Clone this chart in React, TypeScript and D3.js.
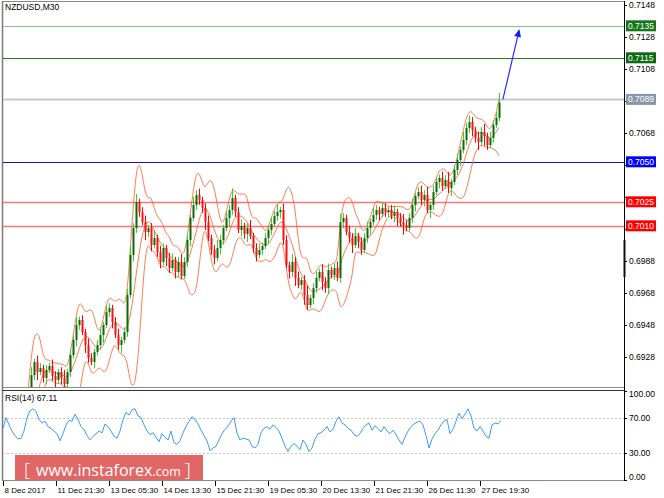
import React from "react";
import * as d3 from "d3";

const title = "NZDUSD,M30";

// M30 closes (left to right), first 8 are below the visible window
const closes = [
  0.68667, 0.68624, 0.68649, 0.68599, 0.68574, 0.68624, 0.68699, 0.68824,
  0.69061, 0.69167, 0.69249, 0.69186, 0.69211, 0.69149, 0.69199, 0.69224, 0.69161, 0.69136, 0.69186, 0.69149, 0.69111, 0.69186,
  0.69292, 0.69386, 0.6948, 0.69511, 0.69436,
  0.69355, 0.69274, 0.69249, 0.69311,
  0.69355, 0.69417, 0.6948, 0.69561, 0.69586,
  0.69499, 0.69417, 0.69355, 0.69386, 0.69436,
  0.69667, 0.69917, 0.70086, 0.70249,
  0.70186, 0.70124, 0.70061, 0.70086, 0.6998, 0.70024, 0.69936, 0.69874, 0.69961, 0.69899, 0.69836, 0.69886, 0.69811, 0.69874, 0.69786,
  0.69874, 0.70011, 0.70149, 0.7023, 0.70292, 0.70261,
  0.70211, 0.70124, 0.70024, 0.69949, 0.69899, 0.69961,
  0.70011, 0.70086, 0.70149, 0.70199, 0.70274,
  0.70186, 0.70074, 0.70099, 0.70049, 0.70086, 0.70036, 0.69961, 0.69917, 0.69949, 0.69974,
  0.70024, 0.70074, 0.70111, 0.70161, 0.70186, 0.70199,
  0.70011, 0.69855, 0.69811, 0.69874, 0.69774, 0.6973, 0.69761, 0.69667, 0.69605, 0.69649,
  0.69711, 0.69774, 0.69811, 0.69749, 0.69711, 0.69824, 0.69792, 0.69836, 0.69774,
  0.70124, 0.70149, 0.70061, 0.70024, 0.6998, 0.70036, 0.69999, 0.69949,
  0.70024, 0.70086, 0.70124, 0.70167, 0.70199, 0.70174, 0.70211, 0.70186,
  0.70199, 0.70161, 0.70186, 0.70149, 0.70124, 0.70105, 0.70086,
  0.70149, 0.7023, 0.70286, 0.70311,
  0.70261, 0.70292, 0.70199, 0.7023, 0.70311, 0.70374, 0.70399, 0.70349, 0.70386, 0.70336, 0.70374,
  0.70449, 0.70511, 0.70574, 0.70636, 0.70711, 0.70749,
  0.70699, 0.70649, 0.70624, 0.70686, 0.70661, 0.70605, 0.70649,
  0.7073, 0.70774, 0.7087,
];

// wick lengths above / below the body, in pips
const wickUp = [
  2, 3, 1, 2, 3, 2, 1, 2,
  3, 5, 2, 4, 3, 2, 3, 2, 4, 3, 2, 3, 5, 2,
  4, 3, 5, 2, 3,
  2, 4, 3, 2,
  3, 5, 2, 4, 3,
  2, 3, 4, 2, 3,
  4, 6, 3, 5,
  2, 3, 4, 2, 3, 5, 2, 4, 3, 2, 3, 4, 2, 3, 5,
  3, 4, 2, 5, 3, 4,
  2, 3, 4, 2, 3, 5,
  3, 2, 4, 3, 6,
  2, 3, 4, 2, 3, 5, 2, 3, 4, 2,
  3, 2, 4, 3, 5, 2,
  4, 3, 2, 5, 3, 4, 2, 3, 6, 2,
  3, 4, 2, 5, 3, 4, 2, 3, 4,
  5, 3, 2, 4, 3, 5, 2, 3,
  3, 4, 2, 5, 3, 2, 4, 3,
  2, 3, 4, 2, 3, 5, 3,
  3, 4, 2, 3,
  4, 3, 5, 2, 4, 3, 2, 4, 3, 5, 2,
  3, 4, 2, 5, 3, 4,
  3, 2, 4, 3, 5, 2, 4,
  3, 4, 6,
];
const wickDn = [
  3, 2, 2, 3, 1, 2, 3, 2,
  2, 4, 3, 5, 2, 3, 4, 2, 3, 5, 2, 4, 3, 2,
  3, 2, 4, 3, 2,
  5, 3, 2, 4,
  2, 3, 5, 2, 3,
  4, 2, 3, 5, 2,
  3, 2, 4, 3,
  3, 2, 5, 3, 4, 2, 3, 4, 2, 5, 3, 2, 4, 3, 2,
  2, 3, 4, 2, 3, 3,
  3, 5, 2, 3, 4, 2,
  4, 3, 2, 5, 3,
  3, 2, 4, 3, 5, 2, 3, 4, 2, 3,
  2, 4, 3, 2, 3, 4,
  3, 2, 4, 3, 5, 2, 3, 6, 3, 2,
  4, 3, 2, 5, 3, 4, 2, 3, 2,
  3, 4, 2, 3, 5, 2, 4, 3,
  2, 3, 4, 2, 3, 4, 2, 3,
  3, 2, 4, 5, 3, 6, 2,
  2, 3, 4, 2,
  3, 4, 2, 5, 3, 2, 4, 3, 2, 3, 5,
  2, 3, 4, 2, 3, 3,
  4, 3, 5, 2, 6, 3, 2,
  3, 2, 2,
];

const rsiValues = [
  58, 70, 62, 55, 50, 46, 47, 55, 70, 78, 80, 77, 68, 64, 66, 60, 58, 55, 52, 44, 52, 62, 67, 66, 74, 68, 60, 57, 50, 45,
  49, 52, 55, 53, 63, 60, 55, 49, 47, 55, 68, 76, 73, 79, 80, 72, 70, 62, 55, 51, 53, 48, 43, 52, 48, 45, 55, 42, 40, 44,
  53, 60, 66, 71, 68, 63, 56, 50, 44, 33, 36, 38, 45, 52, 57, 60, 66, 70, 53, 45, 47, 46, 45, 38, 36, 40, 53, 58, 60, 57,
  62, 59, 55, 47, 38, 32, 38, 41, 38, 34, 45, 40, 32, 36, 46, 52, 53, 56, 60, 54, 57, 66, 71, 64, 62, 58, 56, 51, 49, 52,
  58, 62, 64, 56, 61, 58, 54, 60, 55, 52, 56, 51, 45, 40, 48, 55, 60, 63, 65, 66, 62, 50, 36, 46, 52, 56, 62, 66, 68, 52,
  57, 66, 75, 69, 74, 80, 72, 58, 55, 60, 55, 49, 47, 62, 64, 63, 67.11,
];
const rsiLabel = "RSI(14) 67.11";

// price-axis labels that stay readable (the others sit under the level boxes)
const priceTicks = [0.7148, 0.7128, 0.7108, 0.7068, 0.6988, 0.6968, 0.6948, 0.6928];
const hiddenTicks = [0.7088, 0.7048, 0.7028, 0.7008];
const levelPrices = [0.7135, 0.7115, 0.7089, 0.705, 0.7025, 0.701];
const levelLineColors = ["#86c486", "#1e7e1e", "#c4c8d2", "#1010c8", "#ff7474", "#ff7474"];
const levelBoxColors = ["#16761c", "#0b6a12", "#8896a8", "#0000ff", "#ff0000", "#ff0000"];
const levelWidths = [1, 1, 2, 1, 1.6, 1.6];

const rsiTicks = [100, 70, 30, 0];
const timeLabels = [
  "8 Dec 2017", "11 Dec 21:30", "13 Dec 05:30", "14 Dec 13:30", "15 Dec 21:30",
  "19 Dec 05:30", "20 Dec 13:30", "21 Dec 21:30", "26 Dec 11:30", "27 Dec 19:30",
];

const arrowFromPrice = 0.7089;
const arrowToPrice = 0.7133;

const W = 664;
const H = 498;
const AX = 624; // right axis x
const FONT = "'Liberation Sans', Arial, sans-serif";

export default function App() {
  const n = closes.length;
  const x = d3.scaleLinear().domain([0, n - 1]).range([4, 499]);
  const y = d3.scaleLinear().domain([0.6928, 0.7148]).range([357, 5]);
  const yr = d3.scaleLinear().domain([0, 100]).range([480, 391]);
  const xr = d3.scaleLinear().domain([0, rsiValues.length - 1]).range([3, 501]);
  const xt = d3.scaleLinear().domain([0, timeLabels.length - 1]).range([3, 480]);

  const candles = closes.map((c, i) => {
    const o = i === 0 ? c + 0.0003 : closes[i - 1];
    const hi = Math.max(o, c) + (wickUp[i] ?? 2) * 0.0001;
    const lo = Math.min(o, c) - (wickDn[i] ?? 2) * 0.0001;
    return { o, c, hi, lo };
  });

  // Bollinger bands
  const period = 6;
  const bands: { i: number; up: number; mid: number; lo: number }[] = [];
  for (let i = period - 1; i < n; i++) {
    const win = closes.slice(i - period + 1, i + 1);
    const m = d3.mean(win) as number;
    const sd = Math.sqrt(d3.mean(win.map((v) => (v - m) * (v - m))) as number);
    bands.push({ i, up: m + 2 * sd, mid: m, lo: m - 2 * sd });
  }
  const bandLine = (key: "up" | "mid" | "lo") =>
    d3
      .line<{ i: number; up: number; mid: number; lo: number }>()
      .x((d) => x(d.i))
      .y((d) => y(d[key]))
      .curve(d3.curveBasis)(bands) as string;

  const rsiPath = d3
    .line<number>()
    .x((_, i) => xr(i))
    .y((d) => yr(d))(rsiValues) as string;

  // arrow
  const ax1 = x(n - 1 + 1.3);
  const ay1 = y(arrowFromPrice);
  const ax2 = x(n - 1 + 6.8);
  const ay2 = y(arrowToPrice);
  const ang = Math.atan2(ay2 - ay1, ax2 - ax1);
  const hl = 8;
  const hw = 3.5;
  const bx = ax2 - hl * Math.cos(ang);
  const by = ay2 - hl * Math.sin(ang);
  const head = `M${ax2},${ay2} L${bx + hw * Math.sin(ang)},${by - hw * Math.cos(ang)} L${bx - hw * Math.sin(ang)},${by + hw * Math.cos(ang)} Z`;

  return (
    <svg
      width={W}
      height={H}
      style={{ position: "absolute", left: 0, top: 0, background: "#fff" }}
      fontFamily={FONT}
    >
      <defs>
        <clipPath id="mainClip">
          <rect x={3} y={2} width={AX - 3} height={385} />
        </clipPath>
        <clipPath id="rsiClip">
          <rect x={3} y={392} width={AX - 3} height={87} />
        </clipPath>
      </defs>
      <rect x={0} y={0} width={W} height={H} fill="#fff" />

      {/* frames */}
      <line x1={2.5} x2={AX} y1={1.5} y2={1.5} stroke="#8a8a8a" />
      <line x1={2.5} x2={2.5} y1={1} y2={481} stroke="#7a7a7a" strokeWidth={1.5} />
      <line x1={2.5} x2={AX} y1={387.5} y2={387.5} stroke="#8a8a8a" />
      <line x1={2.5} x2={AX} y1={390.5} y2={390.5} stroke="#333" />
      <line x1={2.5} x2={AX} y1={480.5} y2={480.5} stroke="#8a8a8a" />
      <line x1={AX + 0.5} x2={AX + 0.5} y1={1} y2={481} stroke="#000" />
      <rect x={AX - 0.5} y={240} width={2} height={37} fill="#111" />

      {/* price axis */}
      {[...priceTicks, ...hiddenTicks].map((p) => (
        <line
          key={"t" + p}
          x1={AX}
          x2={AX + 3}
          y1={Math.round(y(p)) + 0.5}
          y2={Math.round(y(p)) + 0.5}
          stroke="#000"
        />
      ))}
      {priceTicks.map((p) => (
        <text key={p} x={629} y={y(p)} dy="0.35em" fontSize={8.5} fill="#000">
          {p.toFixed(4)}
        </text>
      ))}

      {/* level lines */}
      {levelPrices.map((p, i) => (
        <line
          key={"l" + p}
          x1={3}
          x2={AX}
          y1={Math.round(y(p)) + 0.5}
          y2={Math.round(y(p)) + 0.5}
          stroke={levelLineColors[i]}
          strokeWidth={levelWidths[i]}
        />
      ))}

      <g clipPath="url(#mainClip)">
        {/* Bollinger */}
        <g fill="none" stroke="#ff5a26" strokeOpacity={0.8} strokeWidth={1}>
          <path d={bandLine("up")} />
          <path d={bandLine("mid")} />
          <path d={bandLine("lo")} />
        </g>
        {/* candles */}
        {candles.map((c, i) => {
          const cx = Math.round(x(i));
          const bull = c.c >= c.o;
          const top = y(Math.max(c.o, c.c));
          const bot = y(Math.min(c.o, c.c));
          return (
            <g key={i}>
              <line
                x1={cx + 0.5}
                x2={cx + 0.5}
                y1={y(c.hi)}
                y2={y(c.lo)}
                stroke={bull ? "#2ed62e" : "#ff0000"}
              />
              <rect
                x={cx - 0.5}
                y={top}
                width={2}
                height={Math.max(1, bot - top)}
                fill={bull ? "#0b6b0b" : "#ff1010"}
              />
            </g>
          );
        })}
      </g>

      {/* arrow */}
      <line x1={ax1} y1={ay1} x2={bx} y2={by} stroke="#2a2aff" strokeWidth={1.2} />
      <path d={head} fill="#1a1aff" />

      {/* level boxes */}
      {levelPrices.map((p, i) => (
        <g key={"b" + p}>
          <rect x={AX + 2} y={y(p) - 5.5} width={30} height={11} fill={levelBoxColors[i]} />
          <text x={AX + 4} y={y(p)} dy="0.35em" fontSize={8.5} fill="#fff">
            {p.toFixed(4)}
          </text>
        </g>
      ))}

      <text x={5} y={10} fontSize={8.5} fill="#000">
        {title}
      </text>

      {/* RSI panel */}
      {[70, 30].map((v) => (
        <line
          key={v}
          x1={3}
          x2={AX}
          y1={Math.round(yr(v)) + 0.5}
          y2={Math.round(yr(v)) + 0.5}
          stroke="#c8c8c8"
          strokeDasharray="2,2"
        />
      ))}
      <g clipPath="url(#rsiClip)">
        <path d={rsiPath} fill="none" stroke="#3d9bf5" strokeWidth={1} />
      </g>
      <text x={5} y={401} fontSize={8.5} fill="#000">
        {rsiLabel}
      </text>
      {rsiTicks.map((v) => {
        const ty = Math.max(394.5, Math.min(477, yr(v)));
        return (
          <g key={"r" + v}>
            <line x1={AX} x2={AX + 3} y1={Math.round(yr(v)) + 0.5} y2={Math.round(yr(v)) + 0.5} stroke="#000" />
            <text x={629} y={ty} dy="0.35em" fontSize={8.5} fill="#000">
              {v.toFixed(2)}
            </text>
          </g>
        );
      })}

      {/* watermark */}
      <rect x={15} y={455} width={188} height={25} fill="#dc4c4c" fillOpacity={0.85} />
      <text x={24} y={476} fill="#fff" fontFamily="'Open Sans', sans-serif">
        <tspan fontSize={19} fontWeight={300}>[</tspan>
        <tspan dx={6} fontSize={16}>www.instaforex</tspan>
        <tspan fontSize={12.5}>.com</tspan>
        <tspan dx={4} fontSize={19} fontWeight={300}>]</tspan>
      </text>

      {/* time axis */}
      {timeLabels.map((t, i) => {
        const tx = Math.round(xt(i)) + 0.5;
        return (
          <g key={t}>
            <line x1={tx} x2={tx} y1={481} y2={486} stroke="#000" />
            <text x={tx + 1} y={493} fontSize={8} fill="#000">
              {t}
            </text>
          </g>
        );
      })}
    </svg>
  );
}
